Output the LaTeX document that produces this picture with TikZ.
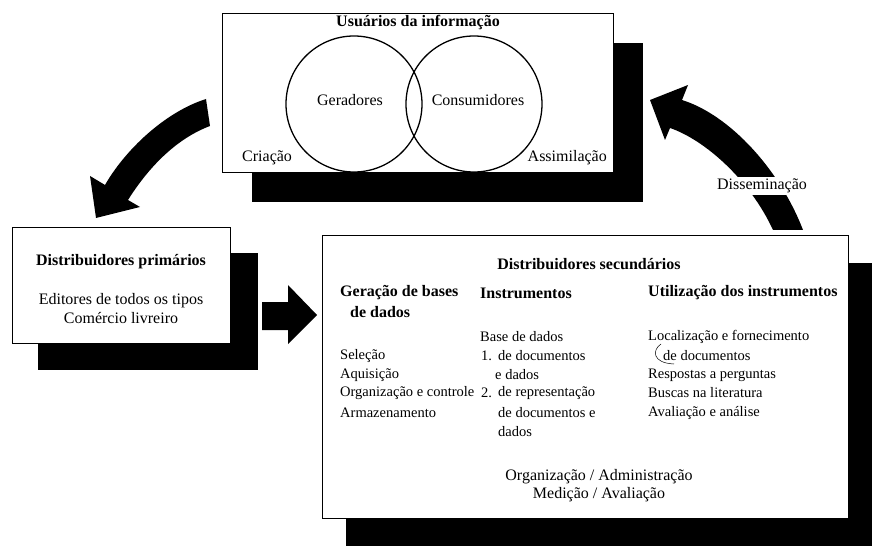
\documentclass[tikz,border=0pt]{standalone}
\usepackage{fontspec}
\setmainfont{Liberation Serif}
\begin{document}
\begin{tikzpicture}[x=1pt,y=-1pt,
  box/.style={draw=black, line width=1.4pt, fill=white, inner sep=0pt},
  circ/.style={draw=black, line width=1.3pt, circle, inner sep=0pt, minimum size=136pt},
  tx/.style={inner sep=0pt, font=\fontsize{16}{18}\selectfont},
  hd/.style={inner sep=0pt, font=\fontsize{16}{18}\selectfont\bfseries},
  sx/.style={inner sep=0pt, anchor=west, font=\fontsize{14.5}{17}\selectfont},
  sh/.style={inner sep=0pt, anchor=west, font=\fontsize{16}{18}\selectfont\bfseries}]
\useasboundingbox (0,0) rectangle (873,548);

% ---------- top box: users ----------
\fill (252,43) rectangle (643,202);
\node[box, anchor=north west, minimum width=391pt, minimum height=159pt] (usr) at (222,13) {};
\node[circ] (gen) at (354,104) {};
\node[circ] (con) at (474,104) {};
\node[hd] (tusr) at (418,23) {Usuários da informação};
\node[tx] (tgen) at (350,100) {Geradores};
\node[tx] (tcon) at (478,100) {Consumidores};
\node[tx, anchor=west] (tcri) at (242,158) {Criação};
\node[tx, anchor=east] (tass) at (607,158) {Assimilação};

% ---------- primary distributors ----------
\fill (38,253) rectangle (258,370);
\node[box, anchor=north west, minimum width=218pt, minimum height=116pt] (prim) at (12,227) {};
\node[hd] (tprim) at (121,262) {Distribuidores primários};
\node[tx] (tedi) at (121,301) {Editores de todos os tipos};
\node[tx] (tcom) at (121,318) {Comércio livreiro};

% ---------- secondary distributors ----------
\fill (346,263) rectangle (872,546);
\node[box, anchor=north west, minimum width=526pt, minimum height=283pt] (sec) at (322,235) {};
\node[hd] (tsec) at (589,264) {Distribuidores secundários};

\node[sh] (h1) at (340,293) {Geração de bases};
\node[sh] (h1b) at (350,312) {de dados};
\node[sx] (a1) at (340,356) {Seleção};
\node[sx] (a2) at (340,375) {Aquisição};
\node[sx] (a3) at (340,393) {Organização e controle};
\node[sx] (a4) at (340,413) {Armazenamento};

\node[sh] (h2) at (480,293) {Instrumentos};
\node[sx] (b0) at (480,337) {Base de dados};
\node[sx] (b1) at (481,356) {1.};
\node[sx] (b1a) at (498,356) {de documentos};
\node[sx] (b1b) at (495,375) {e dados};
\node[sx] (b2) at (481,393) {2.};
\node[sx] (b2a) at (498,393) {de representação};
\node[sx] (b2b) at (498,413) {de documentos e};
\node[sx] (b2c) at (498,432) {dados};

\node[sh] (h3) at (648,293) {Utilização dos instrumentos};
\node[sx] (c1) at (648,337) {Localização e fornecimento};
\node[sx] (c1b) at (663,356) {de documentos};
\node[sx] (c2) at (648,375) {Respostas a perguntas};
\node[sx] (c3) at (648,393) {Buscas na literatura};
\node[sx] (c4) at (648,413) {Avaliação e análise};
\draw[line width=0.5pt] (661,344) .. controls (652,350) and (652,363) .. (674,364);

\node[tx] (f1) at (599,477) {Organização / Administração};
\node[tx] (f2) at (599,495) {Medição / Avaliação};

% ---------- block arrows ----------
\fill (206,99) .. controls (165,112) and (125,150) .. (105,185) -- (90,176) -- (96,218) -- (140,207) -- (128,200) .. controls (150,165) and (178,138) .. (210,126) -- cycle;
\fill (262,302) -- (288,302) -- (288,285) -- (317,315) -- (288,344) -- (288,330) -- (262,330) -- cycle;
\fill (682,100) .. controls (730,115) and (780,170) .. (803,230) -- (773,230) .. controls (750,180) and (705,140) .. (670,128) -- (665,140) -- (650,100) -- (688,85) -- cycle;
\node[tx, fill=white, inner sep=1.5pt] (tdis) at (762,186) {Disseminação};
\end{tikzpicture}
\end{document}
